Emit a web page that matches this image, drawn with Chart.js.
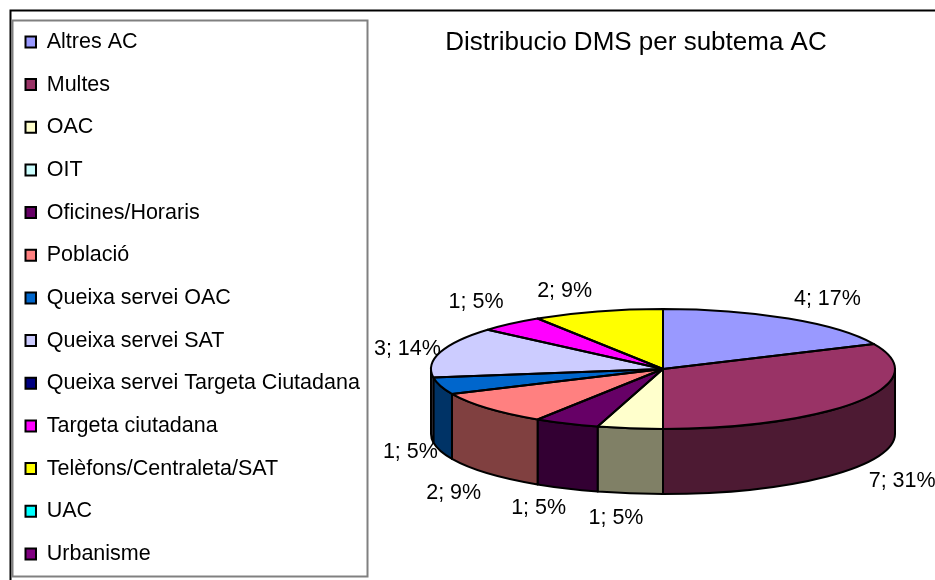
<!DOCTYPE html>
<html>
<head>
<meta charset="utf-8">
<style>html,body{margin:0;padding:0;background:#fff}canvas{display:block}</style>
<script src="https://cdn.jsdelivr.net/npm/chart.js@4"></script>
</head>
<body>
<canvas id="c" width="935" height="580"></canvas>
<script>
const chartTitle = 'Distribucio DMS per subtema AC';
const categories = ['Altres AC','Multes','OAC','OIT','Oficines/Horaris','Població','Queixa servei OAC','Queixa servei SAT','Queixa servei Targeta Ciutadana','Targeta ciutadana','Telèfons/Centraleta/SAT','UAC','Urbanisme'];
const values = [4,7,1,0,1,2,1,3,0,1,2,0,0];
const percents = [17,31,5,0,5,9,5,14,0,5,9,0,0];
const colours = ['#9999FF','#993366','#FFFFCC','#CCFFFF','#660066','#FF8080','#0066CC','#CCCCFF','#000080','#FF00FF','#FFFF00','#00FFFF','#800080'];

const FONT = '"Liberation Sans", Arial, sans-serif';
const PIE = {cx:663, cy:369, rx:232, ry:60, depth:65};
const labelNudge = {0:[39,-19.5],1:[44,79.5],2:[-14,89.5],4:[-28,84.5],5:[-34,84.5],6:[-30,66.5],7:[-33,-3.5],9:[-35,-21.5],10:[-33,-20.5]};

function shade(hex){
  const n = parseInt(hex.slice(1),16);
  return 'rgb('+[(n>>16)&255,(n>>8)&255,n&255].map(v=>Math.round(v*0.5)).join(',')+')';
}
function arcs(chart){ return chart.getDatasetMeta(0).data; }

const pie3d = {
  id:'pie3d',
  afterLayout(chart){
    chart.chartArea = {left:PIE.cx-PIE.rx,right:PIE.cx+PIE.rx,top:PIE.cy-PIE.rx,bottom:PIE.cy+PIE.rx,width:PIE.rx*2,height:PIE.rx*2};
    const t = chart.titleBlock; t.left = 337; t.right = 935;
  },
  beforeDatasetsDraw(chart){
    const ctx = chart.ctx;
    ctx.save();
    ctx.strokeStyle = '#000'; ctx.lineWidth = 2;
    ctx.beginPath(); ctx.moveTo(935,10.5); ctx.lineTo(10.5,10.5); ctx.lineTo(10.5,580); ctx.stroke();
    ctx.strokeStyle = '#808080';
    ctx.strokeRect(12.5,20.5,355,556);
    ctx.restore();
    // side wall: the part of each slice that faces the viewer
    ctx.save();
    ctx.lineWidth = 2; ctx.strokeStyle = '#000'; ctx.lineJoin = 'round';
    const T = Math.PI*2;
    arcs(chart).forEach((el,i)=>{
      const p = el.getProps(['x','y','startAngle','endAngle','outerRadius','circumference'],true);
      if(!p.circumference) return;
      [-T,0,T].forEach(shift=>{
        const a = Math.max(p.startAngle+shift,0), b = Math.min(p.endAngle+shift,Math.PI);
        if(a>=b) return;
        const ry = p.outerRadius*PIE.ry/PIE.rx;
        ctx.beginPath();
        ctx.ellipse(p.x,p.y,p.outerRadius,ry,0,a,b);
        ctx.ellipse(p.x,p.y+PIE.depth,p.outerRadius,ry,0,b,a,true);
        ctx.closePath();
        ctx.fillStyle = shade(colours[i]);
        ctx.fill(); ctx.stroke();
      });
    });
    ctx.restore();
    // flatten the library's own arcs for the top face
    ctx.save();
    ctx.translate(PIE.cx,PIE.cy);
    ctx.scale(1,PIE.ry/PIE.rx);
    ctx.translate(-PIE.cx,-PIE.cy);
  },
  afterDatasetsDraw(chart){
    const ctx = chart.ctx;
    ctx.restore();
    ctx.save();
    ctx.lineWidth = 2; ctx.strokeStyle = '#000'; ctx.lineJoin = 'round';
    arcs(chart).forEach(el=>{
      const p = el.getProps(['x','y','startAngle','endAngle','outerRadius','circumference'],true);
      if(!p.circumference) return;
      const ry = p.outerRadius*PIE.ry/PIE.rx;
      ctx.beginPath();
      ctx.moveTo(p.x,p.y);
      ctx.ellipse(p.x,p.y,p.outerRadius,ry,0,p.startAngle,p.endAngle);
      ctx.closePath();
      ctx.stroke();
    });
    ctx.fillStyle = '#000';
    ctx.font = '21.5px '+FONT;
    ctx.textAlign = 'center'; ctx.textBaseline = 'middle';
    arcs(chart).forEach((el,i)=>{
      if(!values[i]) return;
      const p = el.getProps(['x','y','startAngle','endAngle','outerRadius'],true);
      const m = (p.startAngle+p.endAngle)/2;
      const ry = p.outerRadius*PIE.ry/PIE.rx;
      const n = labelNudge[i]||[0,0];
      ctx.fillText(values[i]+'; '+percents[i]+'%', p.x+p.outerRadius*Math.cos(m)+n[0], p.y+ry*Math.sin(m)+n[1]);
    });
    ctx.restore();
  }
};

new Chart(document.getElementById('c'),{
  type:'pie',
  data:{labels:categories,datasets:[{data:values,backgroundColor:colours,borderWidth:0,clip:false}]},
  plugins:[pie3d],
  options:{
    responsive:false,
    animation:false,
    events:[],
    layout:{padding:{left:4.33,top:10,right:0,bottom:-10}},
    plugins:{
      tooltip:{enabled:false},
      title:{display:true,text:chartTitle,color:'#000',font:{family:FONT,size:26,weight:'normal'},padding:{top:17,bottom:-48}},
      legend:{
        display:true,position:'left',align:'start',
        labels:{
          boxWidth:10.5,boxHeight:11,padding:21.17,color:'#000',
          font:{family:FONT,size:21.5},
          generateLabels:()=>categories.map((t,i)=>({text:t,fillStyle:colours[i],strokeStyle:'#000',lineWidth:2,hidden:false,index:i}))
        }
      }
    }
  }
});
</script>
</body>
</html>
